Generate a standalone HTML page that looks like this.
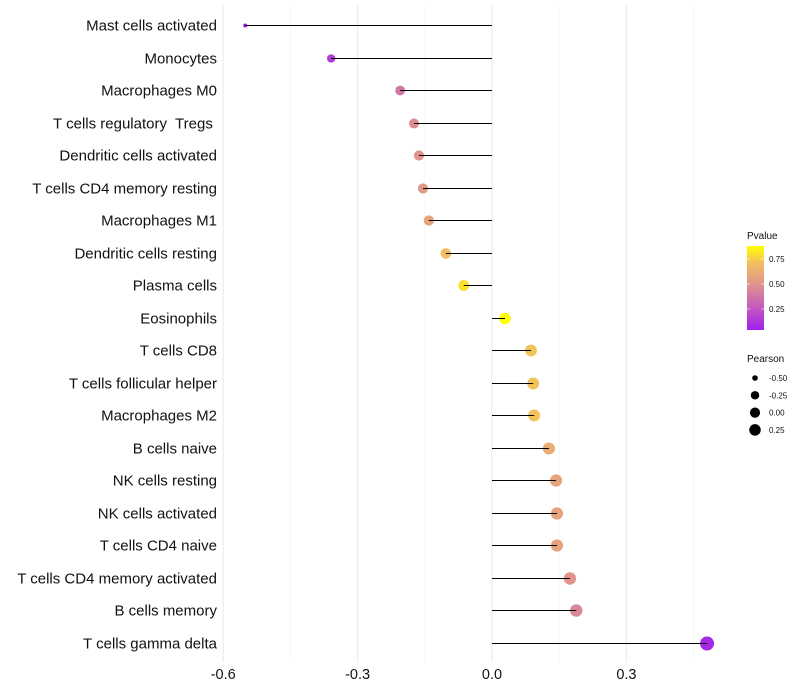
<!DOCTYPE html>
<html><head><meta charset="utf-8"><style>body{margin:0;background:#fff}svg{display:block;font-family:"Liberation Sans",sans-serif}text{white-space:pre}</style></head>
<body>
<svg id="chart" width="800" height="700">
<defs><linearGradient id="pg" x1="0" y1="1" x2="0" y2="0">
<stop offset="0" stop-color="#a020f0"/><stop offset="0.3" stop-color="#c860b8"/><stop offset="0.55" stop-color="#e0948c"/><stop offset="0.8" stop-color="#f2c060"/><stop offset="1" stop-color="#ffff00"/></linearGradient></defs>
</svg>
<script>
const categories=["Mast cells activated","Monocytes","Macrophages M0","T cells regulatory  Tregs ","Dendritic cells activated","T cells CD4 memory resting","Macrophages M1","Dendritic cells resting","Plasma cells","Eosinophils","T cells CD8","T cells follicular helper","Macrophages M2","B cells naive","NK cells resting","NK cells activated","T cells CD4 naive","T cells CD4 memory activated","B cells memory","T cells gamma delta"];
const pearson=[-0.551,-0.359,-0.205,-0.174,-0.163,-0.154,-0.141,-0.103,-0.063,0.029,0.087,0.092,0.094,0.127,0.143,0.145,0.145,0.174,0.188,0.48];
const pvalues=[0.05,0.15,0.38,0.47,0.5,0.53,0.58,0.7,0.8,0.88,0.72,0.72,0.72,0.62,0.58,0.58,0.58,0.5,0.45,0.07];
const xTicks=[-0.6,-0.3,0.0,0.3];
const xTickLabels=["-0.6","-0.3","0.0","0.3"];
const pLegendVals=[0.75,0.50,0.25];
const sLegendVals=[-0.50,-0.25,0.00,0.25];
const svg=document.getElementById('chart');const NS='http://www.w3.org/2000/svg';
function mk(t,a,p){const e=document.createElementNS(NS,t);for(const k in a)e.setAttribute(k,a[k]);(p||svg).appendChild(e);return e;}
const X=v=>492+v*448;
const Y=i=>Math.round(25+i*32.5)+0.5;
const R=v=>2+5*Math.sqrt(Math.max(0,(v+0.551)/1.031));
function col(p){const t=Math.max(0,Math.min(1,(p-0.04)/0.84));
const st=[[0,[160,32,240]],[0.3,[200,96,184]],[0.55,[224,148,140]],[0.8,[242,192,96]],[1,[255,255,0]]];
for(let i=1;i<st.length;i++){if(t<=st[i][0]){const a=st[i-1],b=st[i],f=(t-a[0])/(b[0]-a[0]);return 'rgb('+a[1].map((c,j)=>Math.round(c+(b[1][j]-c)*f)).join(',')+')';}}return 'rgb(255,255,0)';}
[-0.45,-0.15,0.15,0.45].forEach(v=>{const g=mk('line',{x1:X(v),x2:X(v),y1:5,y2:662,stroke:'#f3f3f3','stroke-width':0.6});

});
xTicks.forEach((v,i)=>{const g=mk('line',{x1:X(v),x2:X(v),y1:5,y2:662,stroke:'#ebebeb','stroke-width':1.1});


const t=mk('text',{x:X(v),y:679,'text-anchor':'middle','font-size':14.5,fill:'#111'});t.textContent=xTickLabels[i];

});
categories.forEach((c,i)=>{const y=Y(i);
const t=mk('text',{x:217,y:y+5,'text-anchor':'end','font-size':15,fill:'#111'});t.textContent=c;


const d=mk('circle',{cx:X(pearson[i]),cy:y,r:R(pearson[i]),fill:col(pvalues[i])});


const l=mk('line',{x1:X(0),x2:X(pearson[i]),y1:y,y2:y,stroke:'#000','stroke-width':1});

});
const lt=mk('text',{x:747,y:239,'font-size':10,fill:'#111'});lt.textContent='Pvalue';


const cb=mk('rect',{x:747,y:246,width:17,height:84,fill:'url(#pg)'});


pLegendVals.forEach(v=>{const y=330-(v-0.04)/0.84*84;
mk('line',{x1:747,x2:750,y1:y,y2:y,stroke:'#fff','stroke-width':0.6});mk('line',{x1:761,x2:764,y1:y,y2:y,stroke:'#fff','stroke-width':0.6});
const t=mk('text',{x:769,y:y+3,'font-size':8,fill:'#111'});t.textContent=v.toFixed(2);

});
const st=mk('text',{x:747,y:362,'font-size':10,fill:'#111'});st.textContent='Pearson';


sLegendVals.forEach((v,i)=>{const y=378+i*17.3;
const c=mk('circle',{cx:755,cy:y,r:R(v)*0.9,fill:'#000'});


const t=mk('text',{x:769,y:y+3,'font-size':8,fill:'#111'});t.textContent=v.toFixed(2);

});
</script>
</body></html>
